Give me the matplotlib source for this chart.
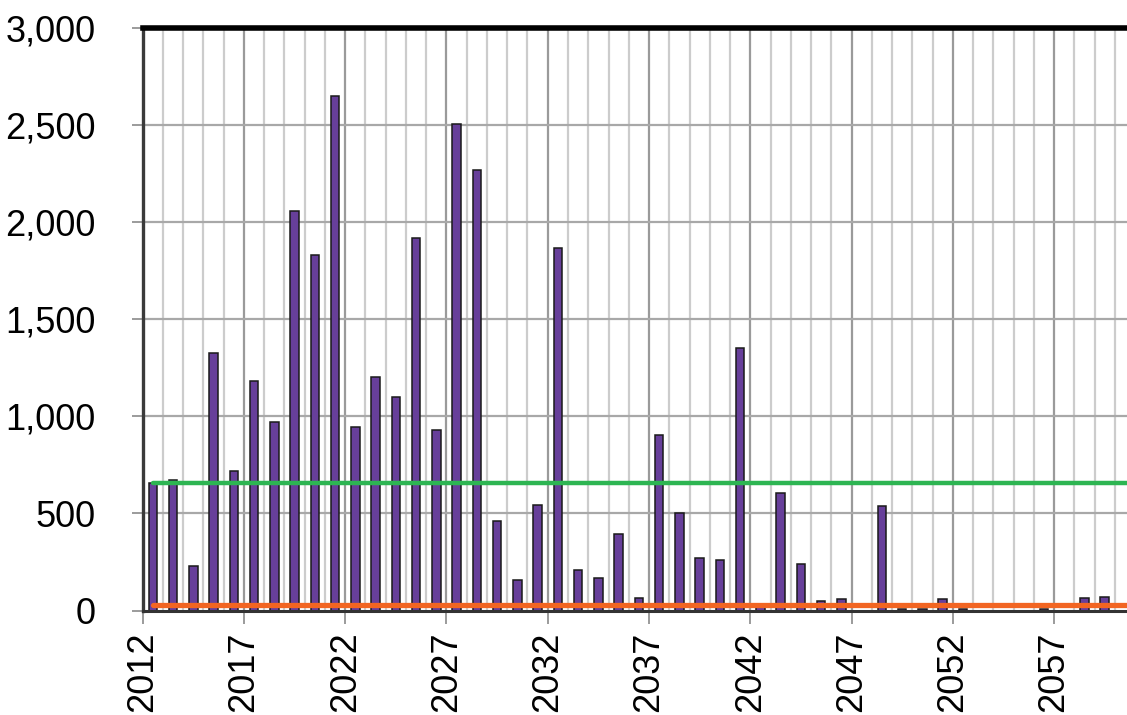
import matplotlib
matplotlib.use("Agg")
import matplotlib.pyplot as plt
from matplotlib.ticker import FuncFormatter, MultipleLocator

years = list(range(2012, 2060))
values = [654, 672, 228, 1327, 720, 1181, 968, 2057, 1830, 2646,
          945, 1201, 1099, 1919, 928, 2504, 2268, 462, 160, 542,
          1868, 210, 169, 395, 66, 903, 503, 270, 259, 1350,
          35, 604, 238, 49, 61, 0, 536, 10, 10, 58,
          10, 0, 0, 0, 10, 0, 66, 71]
green_level = 655
orange_level = 28
xtick_years = list(range(2012, 2060, 5))
y_ticks = [0, 500, 1000, 1500, 2000, 2500, 3000]

plt.rcParams['font.family'] = ['Liberation Sans', 'DejaVu Sans']

fig = plt.figure(figsize=(11.27, 7.15), dpi=100)
ax = fig.add_axes([0.1266, 0.146, 0.8734, 0.8155])

x_start, x_end = 2012, 2060.6
centers = [y + 0.5 for y in years]

# grid
for yr in range(2013, 2061):
    major = (yr - 2012) % 5 == 0
    ax.axvline(yr, color='#9a9a9a' if major else '#cccccc',
               lw=1.6, zorder=0)
for v in y_ticks[1:-1]:
    ax.axhline(v, color='#a8a8a8', lw=1.6, zorder=0)

ax.bar(centers, values, width=0.42, color='#673f9a', edgecolor='#1a1a1a',
       linewidth=1.1, zorder=2)

ax.plot([centers[0], x_end + 1], [green_level, green_level], color='#2db552',
        lw=3.2, solid_capstyle='round', zorder=3)
ax.plot([centers[0], x_end + 1], [orange_level, orange_level], color='#f26522',
        lw=3.8, solid_capstyle='round', zorder=3)

ax.set_xlim(x_start, x_end)
ax.set_ylim(0, 3000)
ax.set_yticks(y_ticks)
ax.yaxis.set_major_formatter(FuncFormatter(lambda v, p: f"{int(v):,}"))
ax.set_xticks(xtick_years)
ax.set_xticklabels([str(y) for y in xtick_years], rotation=90)

ax.tick_params(axis='y', length=8, width=1.2, color='#8a8a8a', pad=26,
               labelsize=26)
ax.tick_params(axis='x', length=9, width=1.2, color='#8a8a8a', pad=6,
               labelsize=26)

for s in ['right']:
    ax.spines[s].set_visible(False)
ax.spines['top'].set_linewidth(4)
ax.spines['top'].set_color('black')
ax.spines['left'].set_linewidth(2.4)
ax.spines['left'].set_color('#3a3a3a')
ax.spines['bottom'].set_linewidth(2.2)
ax.spines['bottom'].set_color('#333333')
for s in ax.spines.values():
    s.set_zorder(4)

fig.savefig("out.png", dpi=100)
